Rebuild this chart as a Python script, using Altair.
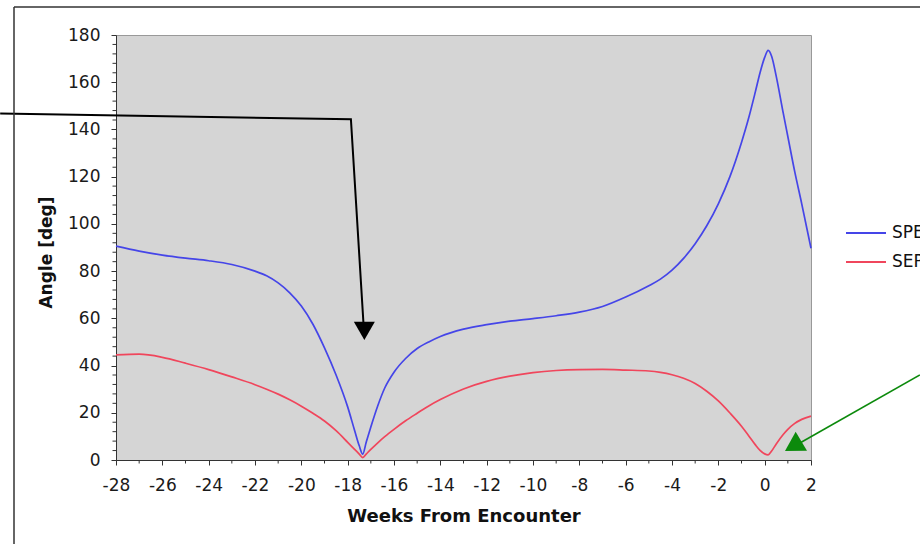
import altair as alt
import pandas as pd

# ---------------- data ----------------
weeks = [-28, -27, -26, -25, -24, -23, -22, -21.5, -21, -20.5, -20, -19.5, -19, -18.5,
         -18, -17.7, -17.5, -17.35, -17.2, -17, -16.7, -16.4, -16, -15.5, -15, -14.5,
         -14, -13, -12, -11, -10, -9, -8, -7, -6, -5, -4.5, -4, -3.5, -3, -2.5, -2,
         -1.5, -1, -0.7, -0.4, -0.2, 0, 0.15, 0.3, 0.5, 0.8, 1.0, 1.3, 1.6, 2.0]

spe = [90.6, 88.5, 86.8, 85.5, 84.4, 82.8, 80.0, 78.0, 75.0, 70.8, 65.2, 57.5, 47.5, 36.0,
       22.5, 12.5, 6.0, 2.5, 7.5, 14.0, 23.0, 30.5, 37.2, 43.0, 47.2, 50.0,
       52.3, 55.4, 57.3, 58.8, 59.9, 61.1, 62.6, 65.0, 69.0, 73.8, 76.6, 80.4, 85.4, 91.6, 99.2, 108.5,
       120.0, 134.5, 144.5, 156.0, 164.0, 170.5, 173.5, 171.0, 162.5, 147.0, 137.0, 122.0, 108.5, 89.7]

sep = [44.5, 44.8, 43.5, 41.0, 38.3, 35.2, 31.9, 30.0, 27.9, 25.5, 22.8, 19.8, 16.5, 12.4,
       7.5, 4.5, 2.5, 1.0, 2.5, 4.5, 7.3, 9.9, 13.0, 16.6, 19.8, 22.9,
       25.6, 30.1, 33.3, 35.5, 37.0, 37.9, 38.3, 38.4, 38.1, 37.7, 37.1, 36.1, 34.6, 32.4, 29.1, 25.0,
       19.9, 14.3, 10.4, 6.4, 4.1, 2.6, 2.2, 3.8, 6.8, 10.8, 13.0, 15.5, 17.2, 18.6]

series_names = ["SPE", "SEP"]
series_colors = ["#4545e8", "#f0465c"]

x_ticks = list(range(-28, 3, 2))
y_ticks = list(range(0, 181, 20))
x_minor = [w for w in range(-28, 3) if w % 2 != 0]
y_minor = [v for v in range(0, 181, 4) if v % 20 != 0]

# annotation arrows (in data units)
black_arrow_week = [-33.0, -17.86, -17.30]
black_arrow_angle = [146.8, 144.3, 55.0]
black_head = (-17.28, 54.7)
green_arrow_week = [1.52, 6.70]
green_arrow_angle = [7.2, 36.0]
green_head = (1.23, 5.85)

# ---------------- chart ----------------
FONT = "DejaVu Sans"
df = pd.DataFrame({
    "week": weeks * 2,
    "angle": spe + sep,
    "series": ["SPE"] * len(weeks) + ["SEP"] * len(weeks),
})

x_scale = alt.Scale(domain=[-28, 2], nice=False, zero=False)
y_scale = alt.Scale(domain=[0, 180], nice=False, zero=False)

x_axis = alt.Axis(values=x_ticks, labelExpr="'' + datum.value", title="Weeks From Encounter",
                  labelFont=FONT, labelFontSize=17, labelColor="#1a1a1a",
                  labelPadding=12, labelFlush=False, labelOverlap=False,
                  tickSize=5, tickColor="#333333", domainColor="#333333",
                  titleFont=FONT, titleFontSize=18, titleFontWeight="bold",
                  titleColor="#111111", titleY=61, titleBaseline="alphabetic",
                  grid=False)
y_axis = alt.Axis(values=y_ticks, labelExpr="'' + datum.value", title="Angle [deg]",
                  labelFont=FONT, labelFontSize=17, labelColor="#1a1a1a",
                  labelPadding=11, labelOverlap=False,
                  tickSize=5, tickColor="#333333", domainColor="#333333",
                  titleFont=FONT, titleFontSize=17, titleFontWeight="bold",
                  titleColor="#111111", titleX=-65, titleY=217,
                  titleBaseline="alphabetic", titleAngle=270, grid=False)


def X(field):
    return alt.X(field, scale=x_scale, axis=x_axis)


def Y(field):
    return alt.Y(field, scale=y_scale, axis=y_axis)


lines = alt.Chart(df).mark_line(interpolate="monotone", strokeWidth=1.7).encode(
    x=X("week:Q"),
    y=Y("angle:Q"),
    color=alt.Color("series:N",
                    scale=alt.Scale(domain=series_names, range=series_colors),
                    sort=series_names,
                    legend=alt.Legend(title=None, orient="none", legendX=739, legendY=187,
                                      symbolType="M-2,0H2", symbolSize=400,
                                      symbolStrokeWidth=1.8, labelFont=FONT,
                                      labelFontSize=17, labelColor="#111111",
                                      labelOffset=15, rowPadding=10, padding=0)),
)

xminor = alt.Chart(pd.DataFrame({"week": x_minor})).mark_rule(color="#333333", strokeWidth=1).encode(
    x=X("week:Q"),
    y=alt.value(425), y2=alt.value(428.5),
)
yminor = alt.Chart(pd.DataFrame({"angle": y_minor})).mark_rule(color="#333333", strokeWidth=1).encode(
    y=Y("angle:Q"),
    x=alt.value(0), x2=alt.value(-3.5),
)

black_line = alt.Chart(pd.DataFrame({
    "week": black_arrow_week, "angle": black_arrow_angle, "o": [0, 1, 2]
})).mark_line(color="#000000", strokeWidth=2, clip=False).encode(
    x=X("week:Q"),
    y=Y("angle:Q"),
    order="o:Q",
)
black_tri = alt.Chart(pd.DataFrame({"week": [black_head[0]], "angle": [black_head[1]]})).mark_point(
    shape="triangle-down", filled=True, size=441, color="#000000", opacity=1, strokeWidth=0
).encode(
    x=X("week:Q"),
    y=Y("angle:Q"),
)

green_line = alt.Chart(pd.DataFrame({
    "week": green_arrow_week, "angle": green_arrow_angle
})).mark_line(color="#0c8a0c", strokeWidth=1.6, clip=False).encode(
    x=X("week:Q"),
    y=Y("angle:Q"),
)
green_tri = alt.Chart(pd.DataFrame({"week": [green_head[0]], "angle": [green_head[1]]})).mark_point(
    shape="triangle-up", filled=True, size=484, angle=239, color="#0c8a0c", opacity=1, strokeWidth=0
).encode(
    x=X("week:Q"),
    y=Y("angle:Q"),
)

frame_data = pd.DataFrame({"k": [0]})
frame_left = alt.Chart(frame_data).mark_rule(color="#333333", strokeWidth=1.5).encode(
    x=alt.value(-102), y=alt.value(-28), y2=alt.value(520)
)
frame_top = alt.Chart(frame_data).mark_rule(color="#333333", strokeWidth=1.5).encode(
    x=alt.value(-102), x2=alt.value(820), y=alt.value(-28)
)

chart = alt.layer(
    lines, xminor, yminor, black_line, black_tri, green_line, green_tri, frame_left, frame_top
).properties(
    width=695, height=425,
    autosize=alt.AutoSizeParams(type="none"),
    padding={"left": 116, "top": 35, "right": 109, "bottom": 84},
    background="#ffffff",
).configure_view(
    fill="#d5d5d5", stroke="#999999", strokeWidth=1
)

chart.save("out.html", embed_options={"renderer": "svg", "actions": False})
